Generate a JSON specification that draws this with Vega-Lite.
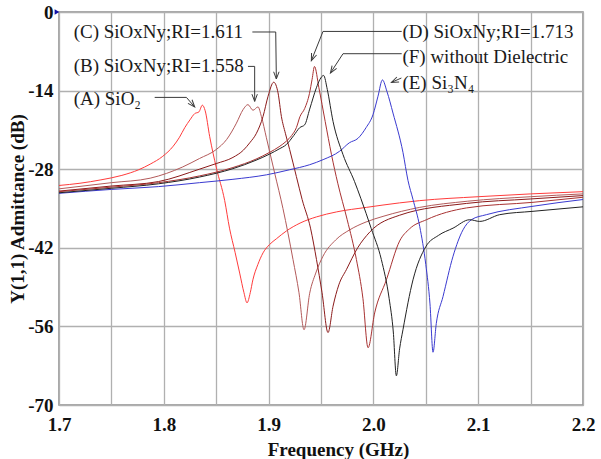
{
  "$schema": "https://vega.github.io/schema/vega-lite/v6.json",
  "width": 524,
  "height": 393,
  "autosize": "none",
  "padding": {"left": 59, "top": 12, "right": 18, "bottom": 54},
  "background": "white",
  "config": {"view": {"stroke": "#8c8c8c", "strokeWidth": 1.5}, "font": "Liberation Serif"},
  "datasets": {
    "curves": [
      {"s":"A","f":1.700,"v":-30.9},{"s":"A","f":1.720,"v":-30.5},{"s":"A","f":1.740,"v":-29.9},{"s":"A","f":1.760,"v":-29.1},{"s":"A","f":1.776,"v":-28.1},{"s":"A","f":1.787,"v":-27.1},{"s":"A","f":1.799,"v":-25.7},{"s":"A","f":1.809,"v":-23.9},{"s":"A","f":1.815,"v":-22.3},{"s":"A","f":1.820,"v":-20.6},{"s":"A","f":1.825,"v":-19.2},{"s":"A","f":1.8295,"v":-18.1},{"s":"A","f":1.8335,"v":-17.8},{"s":"A","f":1.8368,"v":-16.6},{"s":"A","f":1.8395,"v":-17.6},{"s":"A","f":1.8438,"v":-22.2},{"s":"A","f":1.8502,"v":-27.8},{"s":"A","f":1.8581,"v":-33.6},{"s":"A","f":1.8627,"v":-38.5},{"s":"A","f":1.868,"v":-42.8},{"s":"A","f":1.8724,"v":-46.5},{"s":"A","f":1.8765,"v":-50.0},{"s":"A","f":1.8794,"v":-51.8},{"s":"A","f":1.8825,"v":-50.0},{"s":"A","f":1.885,"v":-47.7},{"s":"A","f":1.8897,"v":-45.0},{"s":"A","f":1.8947,"v":-42.9},{"s":"A","f":1.901,"v":-41.4},{"s":"A","f":1.9074,"v":-40.4},{"s":"A","f":1.917,"v":-39.0},{"s":"A","f":1.930,"v":-37.6},{"s":"A","f":1.9456,"v":-36.5},{"s":"A","f":1.965,"v":-35.6},{"s":"A","f":1.9933,"v":-34.8},{"s":"A","f":2.025,"v":-34.0},{"s":"A","f":2.0442,"v":-33.6},{"s":"A","f":2.100,"v":-32.9},{"s":"A","f":2.150,"v":-32.4},{"s":"A","f":2.200,"v":-32.0},
      {"s":"B","f":1.700,"v":-31.5},{"s":"B","f":1.750,"v":-30.4},{"s":"B","f":1.787,"v":-29.6},{"s":"B","f":1.818,"v":-27.6},{"s":"B","f":1.834,"v":-26.1},{"s":"B","f":1.850,"v":-24.5},{"s":"B","f":1.860,"v":-22.7},{"s":"B","f":1.8693,"v":-19.8},{"s":"B","f":1.8756,"v":-17.4},{"s":"B","f":1.8803,"v":-16.5},{"s":"B","f":1.8851,"v":-17.5},{"s":"B","f":1.8899,"v":-16.9},{"s":"B","f":1.8931,"v":-18.6},{"s":"B","f":1.8979,"v":-22.4},{"s":"B","f":1.9058,"v":-28.7},{"s":"B","f":1.9137,"v":-35.0},{"s":"B","f":1.9233,"v":-44.1},{"s":"B","f":1.929,"v":-50.0},{"s":"B","f":1.9338,"v":-56.6},{"s":"B","f":1.9392,"v":-50.1},{"s":"B","f":1.945,"v":-46.5},{"s":"B","f":1.9519,"v":-43.5},{"s":"B","f":1.964,"v":-40.6},{"s":"B","f":1.9774,"v":-38.8},{"s":"B","f":1.993,"v":-37.4},{"s":"B","f":2.0092,"v":-36.4},{"s":"B","f":2.0442,"v":-34.8},{"s":"B","f":2.090,"v":-33.7},{"s":"B","f":2.150,"v":-32.9},{"s":"B","f":2.200,"v":-32.4},
      {"s":"C","f":1.700,"v":-31.9},{"s":"C","f":1.750,"v":-31.0},{"s":"C","f":1.795,"v":-30.2},{"s":"C","f":1.834,"v":-28.0},{"s":"C","f":1.850,"v":-27.0},{"s":"C","f":1.866,"v":-25.9},{"s":"C","f":1.876,"v":-24.6},{"s":"C","f":1.882,"v":-23.3},{"s":"C","f":1.8884,"v":-21.6},{"s":"C","f":1.8947,"v":-18.6},{"s":"C","f":1.8995,"v":-15.0},{"s":"C","f":1.9049,"v":-12.5},{"s":"C","f":1.909,"v":-14.4},{"s":"C","f":1.9122,"v":-18.6},{"s":"C","f":1.916,"v":-21.6},{"s":"C","f":1.9201,"v":-24.5},{"s":"C","f":1.9265,"v":-29.3},{"s":"C","f":1.932,"v":-33.4},{"s":"C","f":1.940,"v":-38.5},{"s":"C","f":1.9457,"v":-44.1},{"s":"C","f":1.951,"v":-50.0},{"s":"C","f":1.9567,"v":-57.1},{"s":"C","f":1.9615,"v":-52.4},{"s":"C","f":1.967,"v":-48.6},{"s":"C","f":1.9742,"v":-45.9},{"s":"C","f":1.985,"v":-42.0},{"s":"C","f":1.9965,"v":-39.2},{"s":"C","f":2.025,"v":-36.2},{"s":"C","f":2.0887,"v":-34.1},{"s":"C","f":2.150,"v":-33.3},{"s":"C","f":2.200,"v":-32.7},
      {"s":"D","f":1.700,"v":-32.0},{"s":"D","f":1.750,"v":-31.2},{"s":"D","f":1.795,"v":-30.4},{"s":"D","f":1.834,"v":-29.2},{"s":"D","f":1.866,"v":-27.7},{"s":"D","f":1.888,"v":-26.2},{"s":"D","f":1.901,"v":-25.0},{"s":"D","f":1.910,"v":-24.0},{"s":"D","f":1.917,"v":-23.0},{"s":"D","f":1.922,"v":-22.0},{"s":"D","f":1.9265,"v":-20.6},{"s":"D","f":1.930,"v":-18.6},{"s":"D","f":1.9344,"v":-17.2},{"s":"D","f":1.939,"v":-14.5},{"s":"D","f":1.9415,"v":-12.0},{"s":"D","f":1.9438,"v":-9.7},{"s":"D","f":1.948,"v":-13.5},{"s":"D","f":1.954,"v":-19.5},{"s":"D","f":1.960,"v":-25.4},{"s":"D","f":1.966,"v":-30.5},{"s":"D","f":1.975,"v":-37.0},{"s":"D","f":1.9838,"v":-44.1},{"s":"D","f":1.990,"v":-51.0},{"s":"D","f":1.9949,"v":-59.8},{"s":"D","f":2.0012,"v":-53.6},{"s":"D","f":2.0124,"v":-47.7},{"s":"D","f":2.025,"v":-40.8},{"s":"D","f":2.0346,"v":-38.6},{"s":"D","f":2.0506,"v":-37.0},{"s":"D","f":2.0887,"v":-34.9},{"s":"D","f":2.1523,"v":-33.9},{"s":"D","f":2.200,"v":-33.0},
      {"s":"E","f":1.700,"v":-32.3},{"s":"E","f":1.750,"v":-31.6},{"s":"E","f":1.795,"v":-31.1},{"s":"E","f":1.834,"v":-30.4},{"s":"E","f":1.866,"v":-29.8},{"s":"E","f":1.898,"v":-29.0},{"s":"E","f":1.920,"v":-28.1},{"s":"E","f":1.9392,"v":-27.2},{"s":"E","f":1.952,"v":-26.3},{"s":"E","f":1.9678,"v":-24.8},{"s":"E","f":1.977,"v":-23.3},{"s":"E","f":1.9853,"v":-22.5},{"s":"E","f":1.993,"v":-20.6},{"s":"E","f":1.9996,"v":-18.3},{"s":"E","f":2.0044,"v":-15.0},{"s":"E","f":2.0086,"v":-12.1},{"s":"E","f":2.013,"v":-14.2},{"s":"E","f":2.0187,"v":-18.0},{"s":"E","f":2.0282,"v":-25.0},{"s":"E","f":2.033,"v":-30.0},{"s":"E","f":2.0378,"v":-33.4},{"s":"E","f":2.0442,"v":-38.2},{"s":"E","f":2.050,"v":-45.0},{"s":"E","f":2.054,"v":-52.0},{"s":"E","f":2.0569,"v":-60.6},{"s":"E","f":2.060,"v":-55.5},{"s":"E","f":2.0664,"v":-50.7},{"s":"E","f":2.076,"v":-43.5},{"s":"E","f":2.0855,"v":-38.8},{"s":"E","f":2.0935,"v":-37.0},{"s":"E","f":2.1078,"v":-36.1},{"s":"E","f":2.1523,"v":-34.6},{"s":"E","f":2.200,"v":-33.4},
      {"s":"F","f":1.700,"v":-32.2},{"s":"F","f":1.750,"v":-31.4},{"s":"F","f":1.795,"v":-30.6},{"s":"F","f":1.834,"v":-29.4},{"s":"F","f":1.866,"v":-27.9},{"s":"F","f":1.888,"v":-26.4},{"s":"F","f":1.901,"v":-25.3},{"s":"F","f":1.910,"v":-24.4},{"s":"F","f":1.917,"v":-23.6},{"s":"F","f":1.924,"v":-22.0},{"s":"F","f":1.9297,"v":-20.6},{"s":"F","f":1.9344,"v":-20.1},{"s":"F","f":1.9392,"v":-17.3},{"s":"F","f":1.9456,"v":-13.5},{"s":"F","f":1.949,"v":-12.0},{"s":"F","f":1.9525,"v":-11.3},{"s":"F","f":1.956,"v":-13.8},{"s":"F","f":1.9615,"v":-19.5},{"s":"F","f":1.971,"v":-25.4},{"s":"F","f":1.982,"v":-30.2},{"s":"F","f":1.988,"v":-33.2},{"s":"F","f":1.998,"v":-38.6},{"s":"F","f":2.0076,"v":-44.1},{"s":"F","f":2.015,"v":-51.0},{"s":"F","f":2.019,"v":-57.0},{"s":"F","f":2.0219,"v":-64.8},{"s":"F","f":2.025,"v":-60.0},{"s":"F","f":2.0282,"v":-56.6},{"s":"F","f":2.0378,"v":-47.7},{"s":"F","f":2.050,"v":-41.8},{"s":"F","f":2.062,"v":-39.8},{"s":"F","f":2.076,"v":-38.5},{"s":"F","f":2.0919,"v":-37.0},{"s":"F","f":2.1014,"v":-37.3},{"s":"F","f":2.1205,"v":-36.1},{"s":"F","f":2.1523,"v":-35.5},{"s":"F","f":2.200,"v":-34.7}
    ],
    "leaders": [
      {"id":"C","o":1,"f":1.8845,"v":-3.56},{"id":"C","o":2,"f":1.9068,"v":-3.56},{"id":"C","o":3,"f":1.9074,"v":-11.93},
      {"id":"B","o":1,"f":1.8803,"v":-9.69},{"id":"B","o":2,"f":1.8867,"v":-9.69},{"id":"B","o":3,"f":1.8867,"v":-15.92},
      {"id":"A","o":1,"f":1.7913,"v":-15.21},{"id":"A","o":2,"f":1.8216,"v":-15.21},{"id":"A","o":3,"f":1.8295,"v":-16.92},
      {"id":"D","o":1,"f":2.0270,"v":-3.46},{"id":"D","o":2,"f":1.9519,"v":-3.46},{"id":"D","o":3,"f":1.9408,"v":-8.67},
      {"id":"F","o":1,"f":2.0270,"v":-7.43},{"id":"F","o":2,"f":1.9710,"v":-7.43},{"id":"F","o":3,"f":1.9590,"v":-10.87},
      {"id":"E","o":1,"f":2.0267,"v":-11.76},{"id":"E","o":2,"f":2.0172,"v":-12.54}
    ],
    "tips": [
      {"id":"C","f":1.9074,"v":-11.93,"ang":180},
      {"id":"B","f":1.8867,"v":-15.92,"ang":180},
      {"id":"A","f":1.8295,"v":-16.92,"ang":139},
      {"id":"D","f":1.9408,"v":-8.67,"ang":202},
      {"id":"F","f":1.9590,"v":-10.87,"ang":213},
      {"id":"E","f":2.0172,"v":-12.54,"ang":246}
    ],
    "labels": [
      {"t":"(C) SiOxNy;RI=1.611","f":1.7140,"v":-3.56},
      {"t":"(B) SiOxNy;RI=1.558","f":1.7140,"v":-9.57},
      {"t":"(A) SiO₂","f":1.7140,"v":-15.5},
      {"t":"(D) SiOxNy;RI=1.713","f":2.0277,"v":-3.56},
      {"t":"(F) without Dielectric","f":2.0277,"v":-8.02},
      {"t":"(E) Si₃N₄","f":2.0277,"v":-12.65}
    ]
  },
  "layer": [
    {
      "data": {"name": "curves"},
      "mark": {"type": "line", "strokeWidth": 1, "clip": true, "interpolate": "monotone"},
      "encoding": {
        "x": {
          "field": "f", "type": "quantitative",
          "scale": {"domain": [1.7, 2.2], "nice": false, "zero": false},
          "axis": {
            "title": "Frequency (GHz)",
            "values": [1.7, 1.75, 1.8, 1.85, 1.9, 1.95, 2.0, 2.05, 2.1, 2.15, 2.2],
            "labelExpr": "abs(datum.value*10 - round(datum.value*10)) < 0.001 ? format(datum.value, '.1f') : ''",
            "grid": true, "gridColor": "#b0b0b0", "gridWidth": 1.3,
            "ticks": false, "domain": false,
            "labelFont": "Liberation Serif", "labelFontWeight": "bold", "labelFontSize": 19, "labelColor": "#111111",
            "labelPadding": 10, "labelDx": 3, "labelFlush": false, "labelOverlap": false, "labelBound": false,
            "titleFont": "Liberation Serif", "titleFontWeight": "bold", "titleFontSize": 19, "titleColor": "#111111",
            "titleX": 279, "titleY": 44, "titleAlign": "center", "titleBaseline": "middle"
          }
        },
        "y": {
          "field": "v", "type": "quantitative",
          "scale": {"domain": [-70, 0], "nice": false, "zero": false},
          "axis": {
            "title": "Y(1,1) Admittance (dB)",
            "values": [0, -7, -14, -21, -28, -35, -42, -49, -56, -63, -70],
            "labelExpr": "datum.value % 14 == 0 ? (datum.value == 0 ? '0' : '-' + abs(datum.value)) : ''",
            "grid": true, "gridColor": "#b0b0b0", "gridWidth": 1.3,
            "ticks": false, "domain": false,
            "labelFont": "Liberation Serif", "labelFontWeight": "bold", "labelFontSize": 19, "labelColor": "#111111",
            "labelPadding": 6, "labelDy": 2, "labelFlush": false, "labelOverlap": false, "labelBound": false,
            "titleFont": "Liberation Serif", "titleFontWeight": "bold", "titleFontSize": 19, "titleColor": "#111111",
            "titleX": -42, "titleY": 196.5, "titleAngle": 270, "titleAlign": "center", "titleBaseline": "middle"
          }
        },
        "color": {
          "field": "s", "type": "nominal",
          "scale": {"domain": ["A", "B", "C", "D", "E", "F"], "range": ["#ff3b3b", "#b35a5a", "#8b1a1a", "#a83232", "#3a3ad0", "#222222"]},
          "legend": null
        }
      }
    },
    {
      "data": {"name": "leaders"},
      "mark": {"type": "line", "color": "#3a3a3a", "strokeWidth": 1},
      "encoding": {
        "x": {"field": "f", "type": "quantitative"},
        "y": {"field": "v", "type": "quantitative"},
        "detail": {"field": "id"},
        "order": {"field": "o"}
      }
    },
    {
      "data": {"name": "tips"},
      "mark": {"type": "point", "shape": "M-0.9,2.4L0,0L0.9,2.4", "filled": false, "color": "#3a3a3a", "strokeWidth": 1, "size": 36, "opacity": 1},
      "encoding": {
        "x": {"field": "f", "type": "quantitative"},
        "y": {"field": "v", "type": "quantitative"},
        "angle": {"field": "ang", "type": "quantitative", "scale": null}
      }
    },
    {
      "data": {"name": "labels"},
      "mark": {"type": "text", "align": "left", "baseline": "middle", "font": "Liberation Serif", "fontSize": 19, "color": "#1a1a1a"},
      "encoding": {
        "x": {"field": "f", "type": "quantitative"},
        "y": {"field": "v", "type": "quantitative"},
        "text": {"field": "t"}
      }
    },
    {
      "data": {"values": [{"f": 1.7, "v": 0}]},
      "mark": {"type": "point", "shape": "triangle-right", "filled": true, "color": "#1010a8", "size": 30, "xOffset": -2, "opacity": 1, "clip": false},
      "encoding": {
        "x": {"field": "f", "type": "quantitative"},
        "y": {"field": "v", "type": "quantitative"}
      }
    }
  ]
}
